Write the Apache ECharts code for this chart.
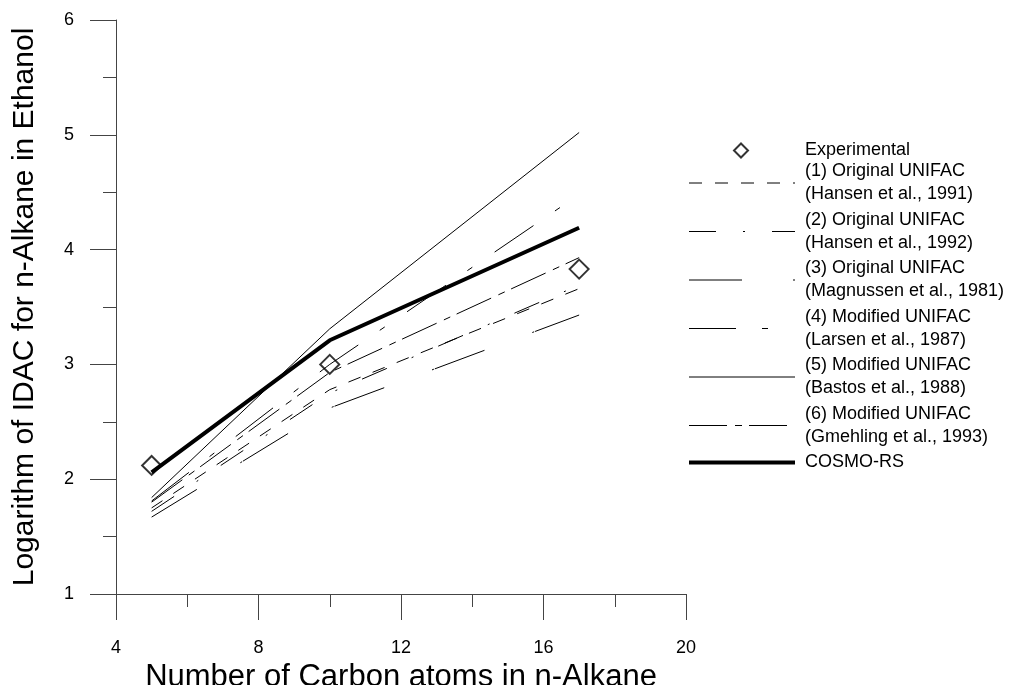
<!DOCTYPE html>
<html>
<head>
<meta charset="utf-8">
<title>IDAC of n-Alkane in Ethanol</title>
<script src="https://cdn.jsdelivr.net/npm/echarts@6/dist/echarts.min.js"></script>
<style>
    html, body {margin: 0; padding: 0; background: #fff;}
    #main {width: 1011px; height: 685px;}
</style>
</head>
<body>
<div id="main"></div>
<script>
// 碳原子数
var carbonNumbers = [5, 10, 17];
// 实验值
var expValues = [2.12, 3.00, 3.83];
// 各模型计算值
var hansen1991 = [1.75, 2.78, 3.66];
var hansen1992 = [1.72, 2.75, 3.69];
var magnussen1981 = [1.67, 2.62, 3.43];
var larsen1987 = [1.81, 3.00, 4.48];
var bastos1988 = [1.84, 3.31, 5.02];
var gmehling1993 = [1.80, 2.93, 3.93];
var cosmoRS = [2.06, 3.21, 4.19];

var FONT = "'Liberation Sans', Arial, sans-serif";

function pairs(xs, ys) {
    var out = [];
    for (var i = 0; i < xs.length; i++) {
        out.push([xs[i], ys[i]]);
    }
    return out;
}

var lineDefs = [];
/**
 * 线条系列
 * @param name 图例名
 * @param values 数据
 * @param dash 虚线样式
 * @param width 线宽
 */
function lineSeries(name, values, dash, width) {
    var style = {color: '#000', width: width || 1, type: dash || 'solid'};
    lineDefs.push({
        name: name,
        itemStyle: {color: 'rgba(0,0,0,0)', borderColor: 'rgba(0,0,0,0)', borderWidth: 0},
        lineStyle: style
    });
    return {
        name: name,
        type: 'line',
        data: pairs(carbonNumbers, values),
        symbol: 'none',
        showSymbol: false,
        silent: true,
        lineStyle: style,
        itemStyle: {color: '#000'}
    };
}

var series = [
    {
        name: 'Experimental',
        type: 'scatter',
        data: pairs(carbonNumbers, expValues),
        symbol: 'diamond',
        symbolSize: 19,
        z: 5,
        itemStyle: {color: 'rgba(255,255,255,0)', borderColor: '#000', borderWidth: 2}
    },
    lineSeries('(1) Original UNIFAC\n(Hansen et al., 1991)', hansen1991, [13, 13]),
    lineSeries('(2) Original UNIFAC\n(Hansen et al., 1992)', hansen1992, [27, 27, 2, 27]),
    lineSeries('(3) Original UNIFAC\n(Magnussen et al., 1981)', magnussen1981, [53, 51, 2, 1]),
    lineSeries('(4) Modified UNIFAC\n(Larsen et al., 1987)', larsen1987, [47, 26, 6, 27]),
    lineSeries('(5) Modified UNIFAC\n(Bastos et al., 1988)', bastos1988),
    lineSeries('(6) Modified UNIFAC\n(Gmehling et al., 1993)', gmehling1993, [38, 8, 7, 7]),
    lineSeries('COSMO-RS', cosmoRS, 'solid', 4)
];

var legendText = {fontFamily: FONT, fontSize: 18, lineHeight: 23, color: '#000'};

var myChart = echarts.init(document.getElementById('main'), null, {renderer: 'canvas'});
var option = {
    animation: false,
    backgroundColor: '#fff',
    textStyle: {fontFamily: FONT, color: '#000'},
    grid: {left: 116, right: 325, top: 20, bottom: 91, containLabel: false, outerBoundsMode: 'none'},
    legend: [
        {
            // 实验点
            orient: 'vertical',
            left: 733,
            top: 139,
            padding: 0,
            itemWidth: 14,
            itemHeight: 14,
            symbolKeepAspect: true,
            selectedMode: false,
            textStyle: echarts.util.extend({padding: [0, 0, 0, 52]}, legendText),
            data: ['Experimental']
        },
        {
            // 模型曲线
            orient: 'vertical',
            left: 687,
            top: 160,
            padding: 0,
            itemWidth: 106,
            itemHeight: 14,
            itemGap: 2.5,
            selectedMode: false,
            textStyle: echarts.util.extend({padding: [0, 0, 0, 5]}, legendText),
            data: lineDefs
        }
    ],
    xAxis: {
        type: 'value',
        min: 4,
        max: 20,
        interval: 4,
        name: 'Number of Carbon atoms in n-Alkane',
        nameLocation: 'middle',
        nameGap: 63,
        nameTextStyle: {fontFamily: FONT, fontSize: 31, color: '#000'},
        axisLine: {show: true, lineStyle: {color: '#444', width: 1}},
        axisTick: {show: true, inside: false, length: 26, lineStyle: {color: '#444'}},
        minorTick: {show: true, splitNumber: 2, length: 13, lineStyle: {color: '#444'}},
        splitLine: {show: false},
        axisLabel: {margin: 45, fontFamily: FONT, fontSize: 18, color: '#000'}
    },
    yAxis: {
        type: 'value',
        min: 1,
        max: 6,
        interval: 1,
        name: 'Logarithm of IDAC for n-Alkane in Ethanol',
        nameLocation: 'middle',
        nameGap: 76,
        nameTextStyle: {fontFamily: FONT, fontSize: 30, color: '#000'},
        axisLine: {show: true, lineStyle: {color: '#444', width: 1}},
        axisTick: {show: true, inside: false, length: 26, lineStyle: {color: '#444'}},
        minorTick: {show: true, splitNumber: 2, length: 13, lineStyle: {color: '#444'}},
        splitLine: {show: false},
        axisLabel: {margin: 42, fontFamily: FONT, fontSize: 18, color: '#000'}
    },
    series: series
};
myChart.setOption(option);
</script>
</body>
</html>
